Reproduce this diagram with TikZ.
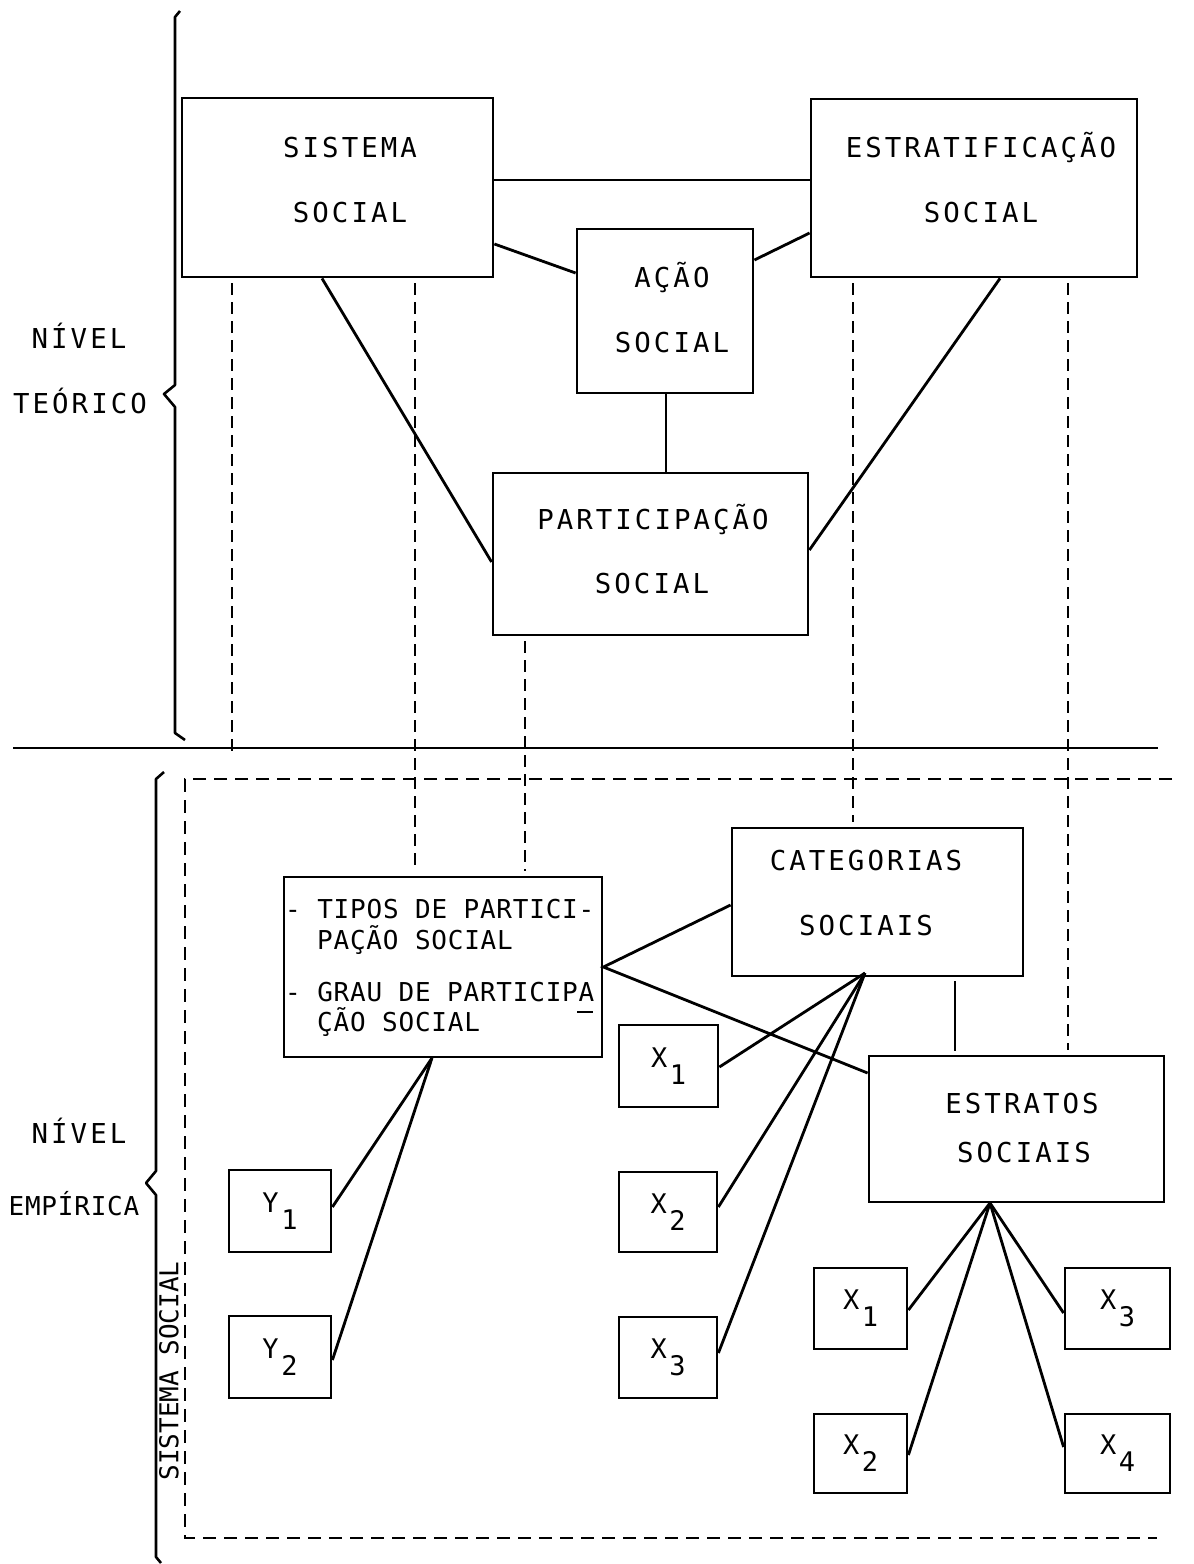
\documentclass[tikz,border=0pt]{standalone}
\usepackage{fontspec}
\newfontfamily\twwide[LetterSpace=11]{DejaVu Sans Mono}
\newfontfamily\twsmall[LetterSpace=3]{DejaVu Sans Mono}
\newfontfamily\twnorm{DejaVu Sans Mono}
\usetikzlibrary{calc}
\tikzset{
  box/.style={draw, line width=2.8pt, inner sep=0pt},
  wide/.style={font=\twwide\fontsize{27.4}{30}\selectfont, inner sep=0pt},
  small/.style={font=\twsmall\fontsize{26}{28}\selectfont, inner sep=0pt},
  norm/.style={font=\twnorm\fontsize{26}{28}\selectfont, inner sep=0pt},
  sub/.style={font=\twnorm\fontsize{27}{30}\selectfont},
  conn/.style={line width=2.8pt},
  dconn/.style={line width=2.6pt, dash pattern=on 12pt off 7pt, shorten <=5pt, shorten >=5pt},
  brace/.style={line width=2.6pt, line join=round},
  subbox/.style={box, sub, minimum width=#1},
}
\newcommand{\sublbl}[2]{#1\kern2.5pt\raisebox{-17pt}{#2}}
\begin{document}
\begin{tikzpicture}[x=1pt,y=-1pt]
\useasboundingbox (0,0) rectangle (1194,1564);

% ---------- braces and separators
\draw[brace] (180,11) -- (175,17) -- (175,385) -- (164,394) -- (175,407) -- (175,733) -- (185,740);
\draw[brace] (164,772) -- (156,779) -- (156,1171) -- (146,1183) -- (156,1195) -- (156,1557) -- (161,1563);
\draw[conn] (13,748) -- (1158,748);
\draw[line width=2.6pt, dash pattern=on 13pt off 8pt] (1172,779) -- (185,779) -- (185,1538) -- (1157,1538);

% ---------- side labels
\node[wide, anchor=base] (niv1) at (79,348) {NÍVEL};
\node[wide, anchor=base] (teo) at (80,413) {TEÓRICO};
\node[wide, anchor=base] (niv2) at (79,1143) {NÍVEL};
\node[small, anchor=base] (emp) at (74,1215) {EMPÍRICA};
\node[norm, rotate=90] (sissoc) at (169,1371) {SISTEMA SOCIAL};

% ---------- theoretical level boxes
\node[box, minimum width=311, minimum height=179] (sis) at (337.5,187.5) {};
\node[wide, anchor=base] (sisA) at (350,157) {SISTEMA};
\node[wide, anchor=base] (sisB) at (350,222) {SOCIAL};

\node[box, minimum width=326, minimum height=178] (estr) at (974,188) {};
\node[wide, anchor=base] (estrA) at (981,157) {ESTRATIFICAÇÃO};
\node[wide, anchor=base] (estrB) at (981,222) {SOCIAL};

\node[box, minimum width=176, minimum height=164] (acao) at (665,311) {};
\node[wide, anchor=base] (acaoA) at (672,287) {AÇÃO};
\node[wide, anchor=base] (acaoB) at (672,352) {SOCIAL};

\node[box, minimum width=315, minimum height=162] (part) at (650.5,554) {};
\node[wide, anchor=base] (partA) at (653,529) {PARTICIPAÇÃO};
\node[wide, anchor=base] (partB) at (652,593) {SOCIAL};

% ---------- empirical level boxes
\node[box, minimum width=318, minimum height=180] (tipos) at (443,967) {};
\node[small, anchor=base west] (tip1) at (285,918) {- TIPOS DE PARTICI-};
\node[small, anchor=base west] (tip2) at (317,949) {PAÇÃO SOCIAL};
\node[small, anchor=base west] (tip3) at (285,1001) {- GRAU DE PARTICIPA};
\node[small, anchor=base west] (tip4) at (317,1031) {ÇÃO SOCIAL};
\draw[line width=2.2pt] (577,1012) -- (593,1012);

\node[box, minimum width=291, minimum height=148] (cat) at (877.5,902) {};
\node[wide, anchor=base] (catA) at (866,870) {CATEGORIAS};
\node[wide, anchor=base] (catB) at (866,935) {SOCIAIS};

\node[box, minimum width=295, minimum height=146] (estratos) at (1016.5,1129) {};
\node[wide, anchor=base] (estratosA) at (1022,1113) {ESTRATOS};
\node[wide, anchor=base] (estratosB) at (1024,1162) {SOCIAIS};

\node[subbox=99, minimum height=82] (xm1) at (668.5,1066) {\sublbl{X}{1}};
\node[subbox=98, minimum height=80] (xm2) at (668,1212) {\sublbl{X}{2}};
\node[subbox=98, minimum height=81] (xm3) at (668,1357.5) {\sublbl{X}{3}};
\node[subbox=102, minimum height=82] (y1) at (280,1211) {\sublbl{Y}{1}};
\node[subbox=102, minimum height=82] (y2) at (280,1357) {\sublbl{Y}{2}};
\node[subbox=93, minimum height=81] (xr1) at (860.5,1308.5) {\sublbl{X}{1}};
\node[subbox=93, minimum height=79] (xr2) at (860.5,1453.5) {\sublbl{X}{2}};
\node[subbox=105, minimum height=81] (xr3) at (1117.5,1308.5) {\sublbl{X}{3}};
\node[subbox=105, minimum height=79] (xr4) at (1117.5,1453.5) {\sublbl{X}{4}};

% ---------- solid connectors, theoretical level
\draw[conn] (sis.east |- 0,180) -- (estr.west |- 0,180);
\draw[conn] (sis.east |- 0,244) -- (acao.west |- 0,273);
\draw[conn] (estr.west |- 0,233) -- (755,260 -| acao.east);
\draw[conn] (666,0 |- acao.south) -- (666,0 |- part.north);
\draw[conn] (322,0 |- sis.south) -- (part.west |- 0,562);
\draw[conn] (1000,0 |- estr.south) -- (part.east |- 0,550);

% ---------- dashed connectors between levels
\coordinate (d1end) at (232,762);
\draw[dconn] (232,0 |- sis.south) -- (d1end);
\draw[dconn] (415,0 |- sis.south) -- (415,0 |- tipos.north);
\draw[dconn] (525,0 |- part.south) -- (525,0 |- tipos.north);
\draw[dconn] (853,0 |- estr.south) -- (853,0 |- cat.north);
\draw[dconn] (1068,0 |- estr.south) -- (1068,0 |- estratos.north);

% ---------- solid connectors, empirical level
\draw[conn] (cat.west |- 0,905) -- (tipos.east |- 0,967) -- (estratos.west |- 0,1073);
\draw[conn, shorten <=4pt, shorten >=4pt] (955,0 |- cat.south) -- (955,0 |- estratos.north);
\coordinate (fcat) at (865,973);
\draw[conn] (xm1.east |- 0,1067) -- (fcat);
\draw[conn] (xm2.east |- 0,1207) -- (fcat);
\draw[conn] (xm3.east |- 0,1353) -- (fcat);
\coordinate (ftip) at (432,1058);
\draw[conn] (y1.east |- 0,1207) -- (ftip);
\draw[conn] (y2.east |- 0,1360) -- (ftip);
\coordinate (fest) at (990,1203);
\draw[conn] (xr1.east |- 0,1310) -- (fest);
\draw[conn] (xr2.east |- 0,1455) -- (fest);
\draw[conn] (xr3.west |- 0,1313) -- (fest);
\draw[conn] (xr4.west |- 0,1447) -- (fest);
\end{tikzpicture}
\end{document}
